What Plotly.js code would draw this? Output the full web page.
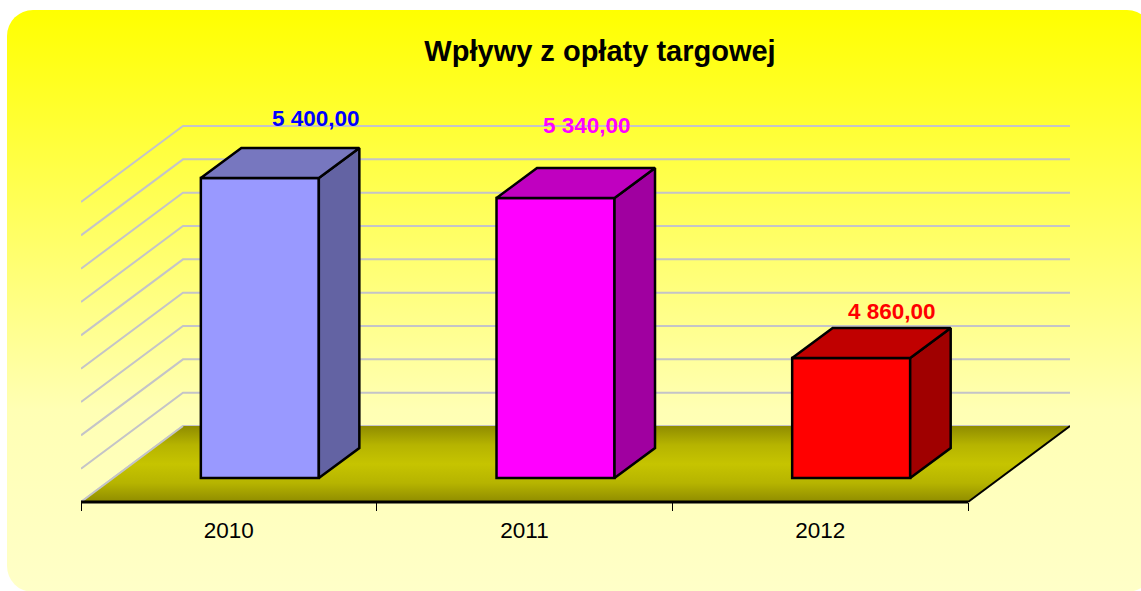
<!DOCTYPE html>
<html>
<head>
<meta charset="utf-8">
<script src="https://cdn.plot.ly/plotly-3.0.1.min.js"></script>
<style>
html,body{margin:0;padding:0;background:#fff;width:1141px;height:591px;overflow:hidden}
#card{position:absolute;left:7px;top:10px;width:1146px;height:582px;border-radius:26px;
background:linear-gradient(#ffff00 0,#ffffb4 400px,#ffffc8 100%)}
#chart{position:absolute;left:0;top:0;width:1141px;height:591px}
</style>
</head>
<body>
<div id="card"></div>
<div id="chart"></div>
<script>
// Data
const years = ["2010", "2011", "2012"];
const values = [5400, 5340, 4860];
const gridValues = [4500, 4600, 4700, 4800, 4900, 5000, 5100, 5200, 5300, 5400];
const titleText = "Wpływy z opłaty targowej";

// Styling
const frontColors = ["#9999FF", "#FF00FF", "#FF0000"];
const topColors = ["#7777BF", "#C000C0", "#C00000"];
const sideColors = ["#6363A3", "#A000A0", "#A00000"];
const labelColors = ["#0000FF", "#FF00FF", "#FF0000"];
const labelShiftX = [56, 31, 41];
const labelShiftY = [60, 73, 47];

// Scale helpers: one category = 295.67 px, 3 value units = 1 px
const catPx = 295.67, unitPerPx = 3;
const base = gridValues[0];
const px = p => p / catPx;
const dy = p => p * unitPerPx;
const wallDX = px(102), wallDY = dy(52), floorDY = dy(-24);
const barShift = px(31), barWidth = px(118), barDX = px(40.5), barDY = dy(30);
const left = -0.5, right = left + years.length;

const fmt = v => String(Math.trunc(v)).replace(/\B(?=(\d{3})+$)/g, " ") + ",00";
const traces = [];
const common = {type: "scatter", hoverinfo: "skip", showlegend: false, cliponaxis: false};

// Walls: back grid lines and left-side diagonals
gridValues.forEach(v => {
  traces.push({...common, mode: "lines",
    x: [left, left + wallDX, right + wallDX],
    y: [v + floorDY, v + floorDY + dy(76), v + floorDY + dy(76)],
    line: {color: "#C4C4C8", width: 2}});
});

// Floor
traces.push({...common, mode: "lines", fill: "toself",
  x: [left, right, right + wallDX, left + wallDX, left],
  y: [base + floorDY, base + floorDY, base + wallDY, base + wallDY, base + floorDY],
  line: {width: 0, color: "rgba(0,0,0,0)"},
  fillcolor: "#C4C200",
  fillgradient: {type: "vertical", colorscale: [[0, "#8F8C00"], [0.25, "#B6B400"], [0.5, "#C6C400"], [0.75, "#B6B400"], [1, "#8F8C00"]]}});
traces.push({...common, mode: "lines",
  x: [left, left + wallDX], y: [base + floorDY, base + wallDY],
  line: {color: "#C4C4C8", width: 2}});
traces.push({...common, mode: "lines",
  x: [right, right + wallDX], y: [base + floorDY, base + wallDY],
  line: {color: "#000000", width: 2}});
traces.push({...common, mode: "lines",
  x: [left, right], y: [base + floorDY, base + floorDY],
  line: {color: "#000000", width: 3}});

// Bars: front faces, then the side and top faces on the overlay axes
const barX = years.map((_, i) => i + barShift);
traces.push({type: "bar", xaxis: "x2", yaxis: "y2", hoverinfo: "skip", showlegend: false,
  x: barX, y: values.map(v => v - base), base: years.map(() => base), width: barWidth,
  marker: {color: frontColors, line: {color: "#000000", width: 2.5}}});

values.forEach((v, i) => {
  const xl = barX[i] - barWidth / 2, xr = barX[i] + barWidth / 2;
  traces.push({...common, xaxis: "x2", yaxis: "y2", mode: "lines", fill: "toself",
    x: [xr, xr + barDX, xr + barDX, xr, xr],
    y: [base, base + barDY, v + barDY, v, base],
    fillcolor: sideColors[i], line: {color: "#000000", width: 2.5}});
  traces.push({...common, xaxis: "x2", yaxis: "y2", mode: "lines", fill: "toself",
    x: [xl, xl + barDX, xr + barDX, xr, xl],
    y: [v, v + barDY, v + barDY, v, v],
    fillcolor: topColors[i], line: {color: "#000000", width: 2.5}});
});

const W = 1141, H = 591;
const range = [left, left + 989 / catPx];
const extraBelow = 10;            // room so the thick front edge is not clipped
const plotH = 402 + extraBelow;
const yRange = [base + floorDY - dy(extraBelow), base + dy(378)];

const layout = {
  width: W, height: H,
  margin: {l: 81, r: 71, t: 100, b: 79, pad: 0},
  paper_bgcolor: "rgba(0,0,0,0)",
  plot_bgcolor: "rgba(0,0,0,0)",
  barmode: "overlay",
  showlegend: false,
  title: {text: "<b>" + titleText + "</b>", x: 600 / W, xref: "container", xanchor: "center",
    y: 1 - 51 / H, yref: "container", yanchor: "middle",
    font: {family: "Liberation Sans, Arial, sans-serif", size: 29, color: "#000000"}},
  xaxis: {type: "linear", range: range, showgrid: false, zeroline: false, showline: false,
    anchor: "free", position: extraBelow / plotH,
    tickmode: "array", tickvals: years.map((_, i) => i), ticktext: years, ticks: "", ticklabelstandoff: 12,
    tickfont: {family: "Liberation Sans, Arial, sans-serif", size: 22.5, color: "#000000"},
    minor: {tickmode: "array", tickvals: years.map((_, i) => i - 0.5).concat([right]),
      ticks: "outside", ticklen: 8, tickwidth: 1, tickcolor: "#000000", showgrid: false}},
  yaxis: {range: yRange, visible: false, showgrid: false, zeroline: false},
  xaxis2: {range: range, overlaying: "x", visible: false, anchor: "y2"},
  yaxis2: {range: yRange, overlaying: "y", visible: false, anchor: "x2"},
  annotations: values.map((v, i) => ({
    xref: "x2", yref: "y2", x: barX[i], y: v, text: "<b>" + fmt(v) + "</b>", showarrow: false,
    xanchor: "center", yanchor: "middle", xshift: labelShiftX[i], yshift: labelShiftY[i],
    font: {family: "Liberation Sans, Arial, sans-serif", size: 22.5, color: labelColors[i]}}))
};

Plotly.newPlot("chart", traces, layout, {displayModeBar: false, staticPlot: true});
</script>
</body>
</html>
